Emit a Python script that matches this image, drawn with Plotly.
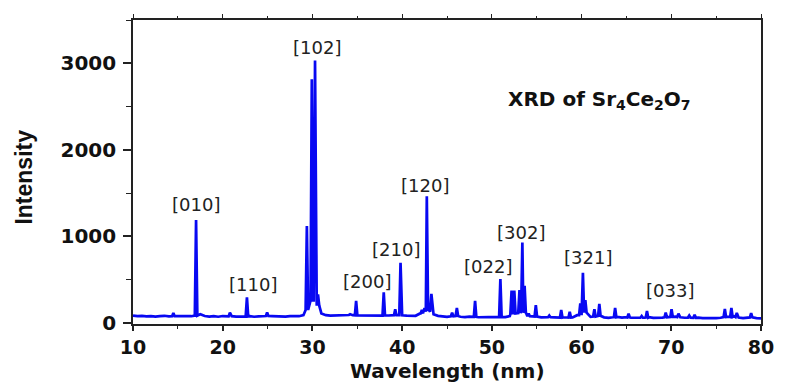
import numpy as np
import plotly.graph_objects as go

# Background trace (2-theta grid 10..80 step 0.5)
base_x = [10 + 0.5 * i for i in range(141)]
base_y = [
    85, 78, 82, 76, 80, 74, 79, 83, 77, 81,      # 10.0 - 14.5
    79, 76, 80, 78, 92, 100, 80, 74, 78, 72,     # 15.0 - 19.5
    80, 76, 78, 73, 75, 78, 79, 72, 76, 80,      # 20.0 - 24.5
    86, 78, 74, 77, 73, 79, 75, 78, 90, 180,     # 25.0 - 29.5
    300, 300, 110, 90, 85, 88, 83, 87, 95, 90,   # 30.0 - 34.5
    85, 88, 82, 86, 90, 84, 88, 86, 92, 90,      # 35.0 - 39.5
    88, 84, 87, 83, 110, 140, 150, 100, 82, 75,  # 40.0 - 44.5
    70, 80, 90, 72, 68, 74, 70, 66, 68, 64,      # 45.0 - 49.5
    66, 70, 72, 68, 80, 110, 120, 130, 80, 72,   # 50.0 - 54.5
    75, 65, 62, 70, 64, 60, 66, 62, 64, 90,      # 55.0 - 59.5
    140, 120, 70, 80, 85, 65, 60, 66, 70, 62,    # 60.0 - 64.5
    68, 60, 58, 64, 60, 66, 58, 56, 62, 70,      # 65.0 - 69.5
    68, 72, 66, 60, 64, 58, 62, 56, 54, 58,      # 70.0 - 74.5
    55, 60, 75, 72, 78, 62, 56, 60, 72, 56,      # 75.0 - 79.5
    54,                                          # 80.0
]

# Diffraction peaks: position, peak intensity, local background
peak_pos = [14.5, 17.03, 20.8, 22.7, 24.95, 29.38, 29.93, 30.29, 30.62,
            34.2, 34.87, 37.95, 39.23, 39.82, 42.2, 42.5, 42.75, 43.26,
            45.57, 46.1, 48.13, 50.95, 52.2, 52.5, 53.08, 53.4, 53.65,
            54.1, 54.9, 56.4, 57.73, 58.68, 59.86, 60.15, 60.42, 61.43,
            61.98, 63.74, 65.24, 66.7, 67.29, 69.38, 70.03, 70.8, 72.0,
            72.6, 75.97, 76.7, 77.3, 78.9]
peak_h = [115, 1190, 120, 296, 120, 1119, 2814, 3033, 330,
          100, 254, 354, 158, 696, 150, 170, 1465, 335,
          120, 173, 254, 507, 373, 373, 380, 930, 430,
          110, 207, 85, 150, 130, 227, 580, 265, 158,
          219, 173, 108, 80, 138, 119, 158, 108, 85,
          96, 162, 173, 115, 115]
peak_base = [78, 85, 76, 76, 80, 150, 260, 260, 200,
             92, 88, 86, 90, 90, 110, 130, 140, 130,
             78, 80, 70, 70, 100, 110, 115, 125, 120,
             78, 74, 66, 62, 63, 90, 130, 120, 75,
             82, 66, 64, 60, 62, 66, 70, 68, 62,
             60, 68, 70, 68, 64]

labels = ["[010]", "[110]", "[102]", "[200]", "[210]", "[120]",
          "[022]", "[302]", "[321]", "[033]"]
label_x = [17.0, 23.4, 30.5, 36.1, 39.35, 42.6, 49.55, 53.3, 60.7, 69.9]
label_y = [1372, 450, 3187, 476, 853, 1592, 650, 1041, 758, 380]

x_major = [10, 20, 30, 40, 50, 60, 70, 80]
y_major = [0, 1000, 2000, 3000]

# merge background and peaks into one sorted trace
HW = 0.14
pts = []
for bx, by in zip(base_x, base_y):
    if all(abs(bx - p) > HW + 0.01 for p in peak_pos):
        pts.append((bx, by))
for p, h, b in zip(peak_pos, peak_h, peak_base):
    pts.append((p - HW, b))
    pts.append((p, h))
    pts.append((p + HW, b))
pts.sort(key=lambda t: t[0])
xs = [t[0] for t in pts]
ys = [t[1] for t in pts]

fig = go.Figure()
fig.add_trace(go.Scatter(x=xs, y=ys, mode="lines",
                         line=dict(color="#0808f2", width=2.7),
                         showlegend=False, hoverinfo="skip"))
# invisible trace carrying the top axis
fig.add_trace(go.Scatter(x=[10, 80], y=[None, None], xaxis="x2", yaxis="y",
                         mode="lines", showlegend=False, hoverinfo="skip"))

tickfont = dict(family="DejaVu Sans", size=20, color="#111", weight="bold")
xtickfont = dict(family="DejaVu Sans", size=19, color="#111", weight="bold")
fig.update_layout(
    xaxis=dict(range=[10, 80], tickvals=x_major,
               ticks="outside", ticklen=5, tickwidth=1.5, tickcolor="#222",
               minor=dict(dtick=5, tick0=10, ticks="outside", ticklen=3,
                          tickwidth=1.2, tickcolor="#222"),
               showline=True, linecolor="#222", linewidth=1.6, mirror=True,
               showgrid=False, zeroline=False, tickfont=xtickfont),
    xaxis2=dict(range=[10, 80], overlaying="x", side="top", tickvals=x_major,
                ticks="outside", ticklen=5, tickwidth=1.4, tickcolor="#222",
                minor=dict(dtick=5, tick0=10, ticks="outside", ticklen=3,
                           tickwidth=1.2, tickcolor="#222"),
                showticklabels=False, showline=False,
                showgrid=False, zeroline=False),
    yaxis=dict(range=[-12, 3500], tickvals=y_major,
               ticks="outside", ticklen=8, tickwidth=1.5, tickcolor="#222",
               minor=dict(dtick=500, tick0=0, ticks="outside", ticklen=5,
                          tickwidth=1.2, tickcolor="#222"),
               showline=True, linecolor="#222", linewidth=1.6, mirror=True,
               ticklabelstandoff=3,
               showgrid=False, zeroline=False, tickfont=tickfont),
)

for t, lx, ly in zip(labels, label_x, label_y):
    fig.add_annotation(x=lx, y=ly, text=t, showarrow=False,
                       font=dict(family="DejaVu Sans", size=18, color="#222"),
                       xanchor="center", yanchor="middle")

fig.add_annotation(x=62.0, y=2572,
                   text="XRD of Sr<sub>4</sub>Ce<sub>2</sub>O<sub>7</sub>",
                   showarrow=False, xanchor="center", yanchor="middle",
                   font=dict(family="DejaVu Sans", size=20, color="#111", weight="bold"))
fig.add_annotation(xref="paper", yref="paper", x=0.5, y=-0.153,
                   text="Wavelength (nm)", showarrow=False,
                   xanchor="center", yanchor="middle",
                   font=dict(family="DejaVu Sans", size=20, color="#111", weight="bold"))
fig.add_annotation(xref="paper", yref="paper", x=-0.174, y=0.484,
                   text="Intensity", showarrow=False, textangle=-90,
                   xanchor="center", yanchor="middle",
                   font=dict(family="Liberation Sans Narrow, Liberation Sans",
                             size=23, color="#111", weight="bold"))

fig.update_layout(width=786, height=383,
                  margin=dict(l=133, r=16, t=20, b=59),
                  plot_bgcolor="white", paper_bgcolor="white")
fig.write_html("out.html")
